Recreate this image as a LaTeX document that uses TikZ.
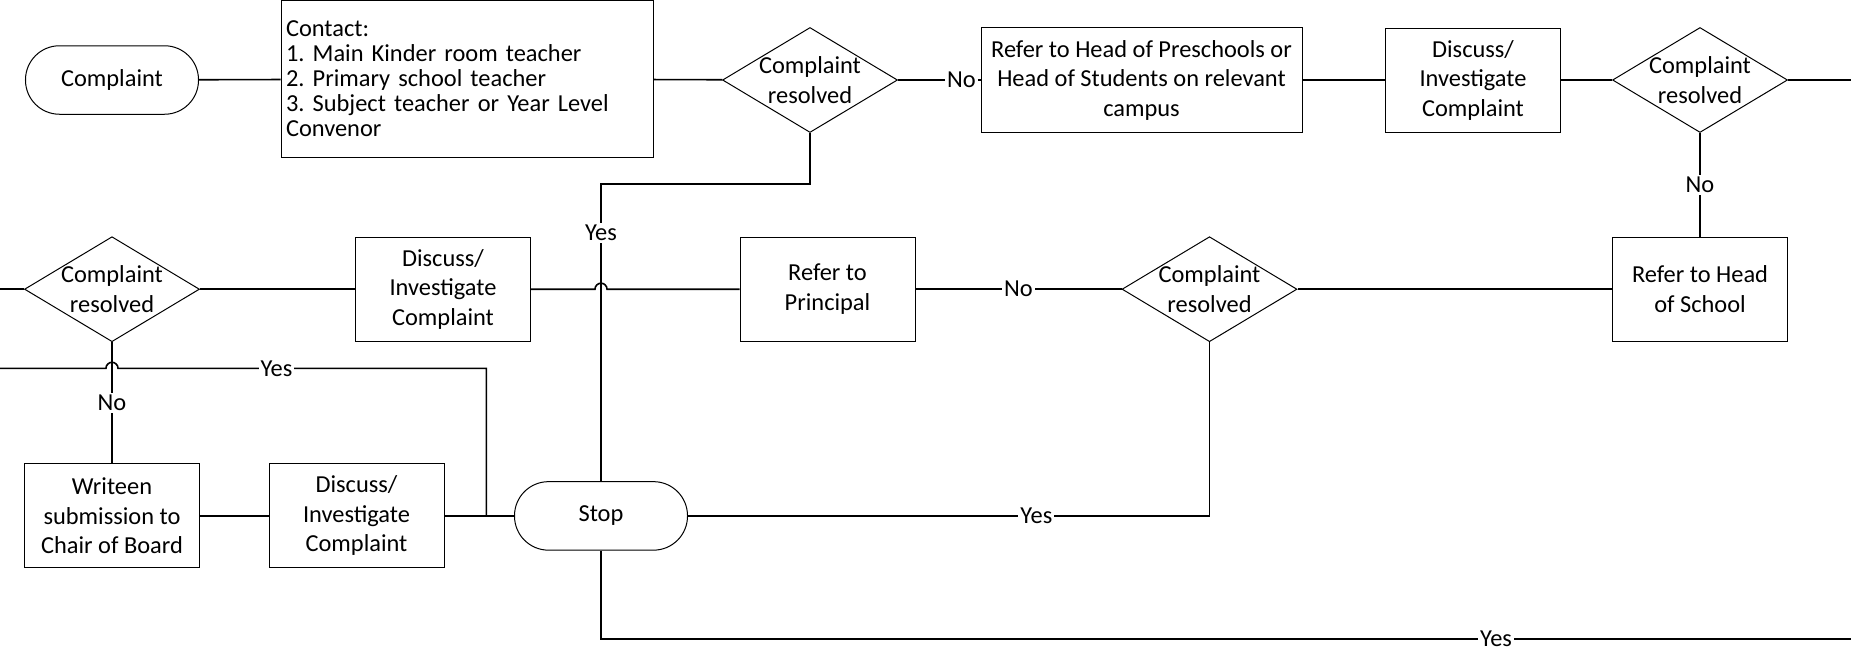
\documentclass[tikz,border=0pt]{standalone}
\usepackage{fontspec}
\setmainfont{Carlito}
\usetikzlibrary{shapes.geometric}
\begin{document}
\frenchspacing
\begin{tikzpicture}[x=50pt,y=-50pt,
  every node/.style={font=\fontsize{12.2}{14.75}\selectfont},
  term/.style={draw,line width=.5pt,rounded corners=17pt,minimum width=86.5pt,minimum height=34.25pt,inner sep=0pt},
  box/.style={draw,line width=.5pt,align=center,minimum width=87.5pt,minimum height=52pt,inner sep=1pt},
  decision/.style={diamond,draw,line width=.5pt,minimum width=87.5pt,minimum height=52.5pt,inner sep=0pt},
  lbl/.style={fill=white,inner sep=1pt},
  conn/.style={line width=.8pt}]
\useasboundingbox (0,0) rectangle (18.51,6.53);
% top row
\node[term] (cmp) at (1.12,.80) {Complaint};
\node[draw,line width=.5pt,text width=181pt,align=left,minimum height=78pt,inner sep=2.5pt,font=\fontsize{12.2}{12.5}\selectfont] (contact) at (4.67,.79) {Contact:\\1. Main Kinder room teacher\\2. Primary school teacher\\3. Subject teacher or Year Level\\Convenor};
\node[decision,label={[align=center]center:Complaint\\resolved}] (dia1) at (8.10,.80) {};
\node[box,minimum width=160.5pt,minimum height=52.5pt] (hps) at (11.415,.80) {Refer to Head of Preschools or\\Head of Students on relevant\\campus};
\node[box] (dis1) at (14.73,.80) {Discuss/\\Investigate\\Complaint};
\node[decision,label={[align=center]center:Complaint\\resolved}] (dia2) at (17.00,.80) {};
% middle row
\node[decision,label={[align=center]center:Complaint\\resolved}] (dia3) at (1.12,2.892) {};
\node[box] (dis2) at (4.43,2.892) {Discuss/\\Investigate\\Complaint};
\node[box] (prn) at (8.275,2.892) {Refer to\\Principal};
\node[decision,label={[align=center]center:Complaint\\resolved}] (dia4) at (12.095,2.892) {};
\node[box] (hos) at (17.00,2.892) {Refer to Head\\of School};
% bottom row
\node[box] (wrt) at (1.12,5.159) {Writeen\\submission to\\Chair of Board};
\node[box] (dis3) at (3.565,5.159) {Discuss/\\Investigate\\Complaint};
\node[term] (stop) at (6.01,5.159) {Stop};
% free ends and bends
\coordinate (rgt1) at (18.51,.80);
\coordinate (lft1) at (0,2.892);
\coordinate (lft2) at (0,3.683);
\coordinate (rgt3) at (18.51,6.387);
\coordinate (j1) at (6.01,1.842);
\coordinate (jn) at (4.864,5.159);
% connectors
\draw[conn] (cmp) -- (contact);
\draw[conn] (contact) -- (dia1);
\draw[conn] (dia1) -- node[lbl,pos=.77]{No} (hps);
\draw[conn] (hps) -- (dis1);
\draw[conn] (dis1) -- (dia2);
\draw[conn] (dia2) -- (rgt1);
\draw[conn] (dia2) -- node[lbl]{No} (hos);
\draw[conn] (hos) -- (dia4);
\draw[conn] (dia4) -- node[lbl]{No} (prn);
\draw[conn] (prn.west) -- (6.07,2.892) arc[start angle=0,end angle=180,radius=3pt] -- (dis2.east);
\draw[conn] (dis2) -- (dia3);
\draw[conn] (dia3) -- (lft1);
\draw[conn] (dia3) -- node[lbl]{No} (wrt);
\draw[conn] (wrt) -- (dis3);
\draw[conn] (dis3) -- (stop);
\draw[conn] (lft2) -- (1.06,3.683) arc[start angle=180,end angle=0,radius=3pt] -- node[lbl,pos=.43]{Yes} (4.864,3.683) -- (jn);
\draw[conn] (dia1.south) |- (j1) -- node[lbl,pos=.163]{Yes} (stop.north);
\draw[conn] (stop.east) -| node[lbl,pos=.334]{Yes} (dia4.south);
\draw[conn] (stop.south) |- node[lbl,pos=.858]{Yes} (rgt3);
\end{tikzpicture}
\end{document}
